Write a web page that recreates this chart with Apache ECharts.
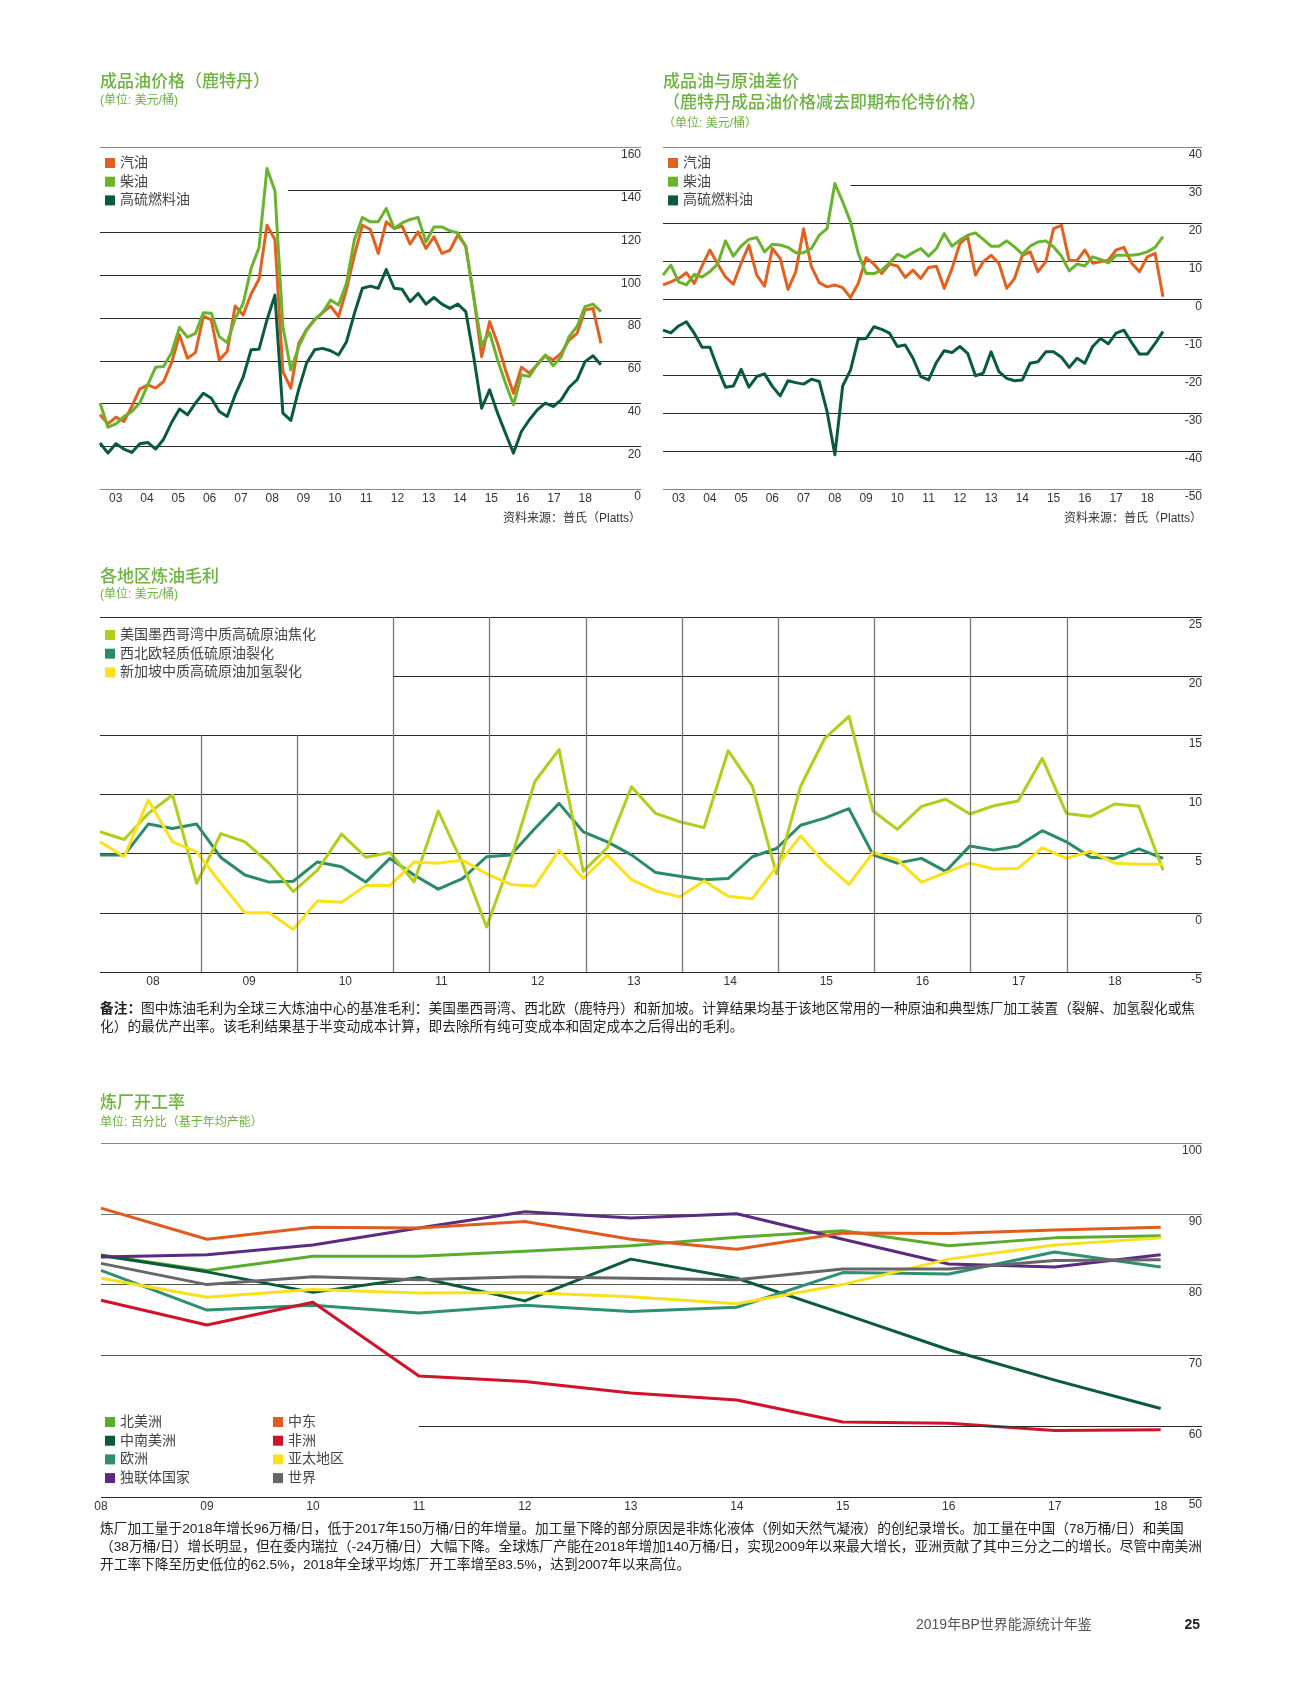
<!DOCTYPE html>
<html><head><meta charset="utf-8">
<script src="https://cdn.jsdelivr.net/npm/echarts@6/dist/echarts.min.js"></script>
<style>html,body{margin:0;padding:0;background:#fff}#c{width:1305px;height:1689px}</style>
</head><body><div id="c"></div>
<script>
// ---------- DATA ----------
// Rotterdam product prices, US$/bbl, quarterly 2003-2018
const gasolinePrice = [34.7,30.5,33.6,31.6,38.6,46.7,48.7,47.2,50.3,59.1,72.1,61.2,63.8,80.9,79.1,60.4,64.3,85.6,81.4,91.2,98.1,123.4,116.7,54.9,47.2,68.2,74.7,79.4,82.5,85.6,80.6,93.4,109.4,123.4,121.4,110.2,125.0,121.9,123.0,114.6,120.3,112.5,118.0,110.2,111.7,118.8,113.6,90.0,61.9,78.3,68.2,55.7,44.8,57.0,54.2,58.1,62.3,60.4,63.5,69.7,72.8,83.7,84.5,68.2];
const dieselPrice = [40.2,28.9,30.5,33.9,36.3,40.2,48.7,57.0,57.3,63.8,75.6,71.0,72.8,82.5,82.2,71.3,68.5,79.8,86.8,103.2,113.0,149.9,139.5,76.0,55.7,66.6,74.4,79.1,82.5,88.4,86.1,96.2,116.7,127.0,125.0,125.0,131.2,121.9,124.5,126.1,127.0,115.6,122.6,122.6,120.8,119.8,113.6,90.0,67.4,73.2,60.4,49.5,39.4,53.4,52.6,58.5,62.7,57.6,61.9,71.3,76.0,85.3,86.5,83.0];
const fuelOilPrice = [21.5,16.8,21.2,18.7,17.1,21.2,21.8,18.7,23.3,31.1,37.4,34.7,40.2,44.8,42.5,36.3,33.9,44.0,52.3,65.1,65.4,79.1,90.7,35.5,32.1,46.7,59.1,65.1,65.8,64.7,62.7,68.9,82.2,93.9,94.9,93.9,102.7,93.9,93.4,87.6,91.5,86.5,89.6,86.5,84.5,86.5,83.0,61.9,37.8,46.4,35.5,26.1,16.8,26.9,32.4,37.0,40.2,38.6,41.7,47.6,51.1,59.6,62.3,58.1];
// Product cracks vs dated Brent, US$/bbl
const gasolineCrack = [3.7,4.5,5.4,6.9,4.1,8.7,12.9,9.2,5.8,3.9,9.4,14.2,6.3,3.4,13.3,10.7,2.5,7.2,18.5,8.5,4.3,3.2,3.7,3.0,0.4,4.1,10.9,9.2,6.7,9.2,8.7,5.7,7.6,5.4,8.3,8.6,2.8,8.0,14.6,16.4,6.3,9.8,11.5,9.4,2.8,5.4,11.5,12.4,7.2,9.8,18.5,19.4,10.1,10.1,12.9,9.4,9.8,10.2,12.9,13.6,9.4,7.2,11.1,12.0,0.6];
const dieselCrack = [6.3,8.9,4.5,3.7,6.5,5.8,7.2,9.2,15.3,11.3,13.9,15.7,16.2,12.4,14.4,14.2,13.6,12.2,12.2,13.3,16.8,18.5,30.4,25.6,20.3,12.0,6.7,6.7,7.6,9.5,11.8,10.9,12.2,13.3,11.3,13.3,17.2,13.9,15.5,16.8,17.4,15.7,13.9,13.9,15.3,13.7,11.8,13.9,15.0,15.3,13.7,11.3,7.4,9.2,8.7,11.1,10.4,9.5,11.5,11.5,11.5,11.8,12.4,13.6,16.4];
const fuelOilCrack = [-8.2,-8.9,-7.1,-6.0,-9.0,-12.7,-12.7,-18.2,-23.2,-22.9,-18.5,-23.2,-20.4,-19.7,-23.0,-25.5,-21.5,-22.0,-22.4,-21.1,-21.7,-29.6,-41.0,-22.9,-18.7,-10.5,-10.4,-7.3,-8.0,-9.0,-12.5,-12.1,-15.6,-20.4,-21.3,-16.7,-13.6,-14.1,-12.5,-14.3,-20.2,-19.5,-13.9,-19.1,-20.9,-21.5,-21.3,-16.9,-16.5,-13.9,-13.9,-15.3,-18.0,-15.6,-16.9,-12.5,-10.4,-11.8,-9.0,-8.2,-11.5,-14.5,-14.5,-11.7,-8.6];
// Regional refining margins, US$/bbl, quarterly 2008-2018
const usGulfCoking = [6.85,6.2,8.4,9.96,2.5,6.7,6.0,4.2,1.8,3.6,6.65,4.7,5.1,2.6,8.6,4.2,-1.2,4.45,11.1,13.8,3.5,5.5,10.66,8.4,7.7,7.2,13.7,10.7,3.3,10.7,14.75,16.6,8.6,7.05,9.0,9.6,8.35,9.05,9.45,13.05,8.4,8.15,9.2,9.0,3.6];
const nweCracking = [4.88,4.88,7.5,7.13,7.5,4.68,3.2,2.6,2.67,4.3,3.9,2.6,4.6,3.2,2.0,2.9,4.74,4.88,7.13,9.25,6.85,6.0,4.9,3.4,3.1,2.8,2.9,4.74,5.44,7.4,8.0,8.8,4.9,4.2,4.6,3.5,5.64,5.3,5.64,6.94,6.0,4.7,4.6,5.4,4.6];
const singaporeHydrocracking = [6.0,4.74,9.53,6.0,5.15,2.5,0.0,0.0,-1.4,1.0,0.9,2.3,2.3,4.3,4.2,4.45,3.3,2.4,2.25,5.3,2.9,4.88,2.8,1.85,1.35,2.7,1.4,1.2,3.9,6.5,4.2,2.4,5.1,4.5,2.6,3.4,4.2,3.7,3.75,5.5,4.6,5.2,4.2,4.1,4.1];
// Refinery utilisation, %, 2008-2018
const utilYears = [2008,2009,2010,2011,2012,2013,2014,2015,2016,2017,2018];
const northAmerica = [84.2,82.0,84.0,84.0,84.7,85.5,86.7,87.6,85.5,86.6,86.9];
const csAmerica = [84.1,81.8,78.9,81.0,77.7,83.6,80.9,75.9,70.8,66.5,62.5];
const europe = [82.0,76.4,77.1,76.0,77.1,76.2,76.8,81.7,81.5,84.6,82.5];
const cis = [83.9,84.2,85.6,88.0,90.3,89.4,90.0,86.4,82.9,82.5,84.2];
const middleEast = [90.8,86.4,88.1,88.0,88.9,86.4,85.0,87.3,87.2,87.7,88.1];
const africa = [77.8,74.3,77.5,67.1,66.3,64.7,63.7,60.6,60.4,59.4,59.5];
const asiaPacific = [80.9,78.2,79.3,78.8,78.9,78.3,77.3,80.0,83.6,85.6,86.6];
const world = [83.0,80.0,81.1,80.7,81.1,80.9,80.7,82.2,82.2,83.4,83.5];
// gridline years of the margin chart
const marginYearLines = [2009,2010,2011,2012,2013,2014,2015,2016,2017,2018];

// ---------- HELPERS ----------
const FONT = "'Liberation Sans','Noto Sans CJK SC',sans-serif";
const GREEN = '#6cb33f';
function spread(vals, start, end){ return vals.map((v,i,a)=>[start + (end-start)*i/(a.length-1), v]); }
function yearsXY(vals){ return vals.map((v,i)=>[utilYears[i], v]); }
function line(name, data, color, xi, yi, z){
  return {type:'line', name, data, xAxisIndex:xi, yAxisIndex:yi, showSymbol:false, symbol:'none', z:z||2,
    lineStyle:{color, width:3, join:'round'}, itemStyle:{color}, emphasis:{disabled:true}, silent:true};
}
function ruler(xi, yi, color, width, segs){
  return {type:'line', name:'_r'+xi+color, data:[], xAxisIndex:xi, yAxisIndex:yi, z:1, silent:true,
    markLine:{silent:true, symbol:['none','none'], label:{show:false}, animation:false, emphasis:{disabled:true},
      lineStyle:{color, width, type:'solid'},
      data: segs.map(s=>[{coord:[s[0],s[1]]},{coord:[s[2],s[3]]}])}};
}
function yAx(gridIndex, min, max, interval, colors){
  return {gridIndex, type:'value', position:'right', min, max, interval,
    axisLine:{show:false}, axisTick:{show:false},
    axisLabel:{inside:true, margin:0, verticalAlign:'top', padding:[2,0,0,0], color:'#333', fontSize:12, fontFamily:FONT},
    splitLine:{show:true, lineStyle:{color:colors, width:1.1}}};
}
function xData(gridIndex, min, max){
  return {gridIndex, type:'value', min, max, position:'bottom', show:false};
}
// label axis in 1/20-year units: a label sits at the middle of each year
function xLabels(gridIndex, min, max, lastYear, margin){
  return {gridIndex, type:'value', min:Math.round(min*20), max:max*20, interval:1, position:'bottom',
    axisLine:{show:false}, axisTick:{show:false}, splitLine:{show:false},
    axisLabel:{margin, color:'#333', fontSize:12, fontFamily:FONT,
      formatter: v => { const r=Math.round(v); if (Math.abs(v-r)>1e-6 || r%20!==10) return ''; const y=(r-10)/20; return y<=lastYear ? String(y).slice(2) : ''; }}};
}
function legend(left, top, names){
  return {left, top, orient:'vertical', itemWidth:10, itemHeight:10, itemGap:4.7, icon:'rect', selectedMode:false,
    itemStyle:{borderWidth:0}, textStyle:{fontSize:14, color:'#444', fontFamily:FONT}, data:names};
}
function txt(x, y, text, o){
  o = o || {};
  return {type:'text', x, y, silent:true, style:Object.assign({text, fill:o.fill||'#222', fontSize:o.size||14, fontFamily:FONT,
    fontWeight:o.weight||'normal', align:o.align||'left', verticalAlign:o.va||'middle', lineHeight:o.lh}, o.extra||{})};
}

// ---------- AXES ----------
const A_MAX = 2020.28, B_MAX = 2020.25, C_MIN = 2007.95, C_MAX = 2019.405, D_MAX = 2018.39;
const gray = '#8a8a8a', dark = '#2a2a2a', none = 'rgba(0,0,0,0)';
const option = {
  animation:false,
  backgroundColor:'#fff',
  textStyle:{fontFamily:FONT},
  grid:[
    {left:100, top:147, width:541, height:342, outerBoundsMode:'none'},
    {left:663, top:147, width:539, height:342, outerBoundsMode:'none'},
    {left:100, top:617, width:1102, height:355, outerBoundsMode:'none'},
    {left:101, top:1143, width:1101, height:354, outerBoundsMode:'none'}
  ],
  xAxis:[
    xData(0, 2003, A_MAX), xLabels(0, 2003, A_MAX, 2018, 4),
    xData(1, 2003, B_MAX), xLabels(1, 2003, B_MAX, 2018, 4),
    xData(2, C_MIN, C_MAX), xLabels(2, C_MIN, C_MAX, 2018, 4),
    {gridIndex:3, type:'value', min:2008, max:D_MAX, interval:1, position:'bottom',
      axisLine:{show:false}, axisTick:{show:false}, splitLine:{show:false},
      axisLabel:{margin:4, color:'#333', fontSize:12, fontFamily:FONT,
        formatter: v => (Math.abs(v-Math.round(v))<1e-6 && v<=2018) ? String(Math.round(v)).slice(2) : ''}}
  ],
  yAxis:[
    yAx(0, 0, 160, 20, [gray,dark,dark,dark,dark,dark,dark,none,gray]),
    yAx(1, -50, 40, 10, [gray,dark,dark,dark,dark,dark,dark,dark,none,gray]),
    yAx(2, -5, 25, 5, [dark,dark,dark,dark,dark,none,dark]),
    yAx(3, 50, 100, 10, [dark,none,'#555','#555','#777','#888'])
  ],
  legend:[
    legend(100, 151, ['汽油','柴油','高硫燃料油']),
    legend(663, 151, ['汽油','柴油','高硫燃料油']),
    legend(100, 623, ['美国墨西哥湾中质高硫原油焦化','西北欧轻质低硫原油裂化','新加坡中质高硫原油加氢裂化']),
    legend(100, 1410, ['北美洲','中南美洲','欧洲','独联体国家']),
    legend(268, 1410, ['中东','非洲','亚太地区','世界'])
  ],
  series:[
    ruler(0, 0, dark, 1.1, [[2009,140,A_MAX,140]]),
    line('汽油', spread(gasolinePrice, 2003, 2019), '#e4601f', 0, 0),
    line('柴油', spread(dieselPrice, 2003, 2019), '#6ab42d', 0, 0),
    line('高硫燃料油', spread(fuelOilPrice, 2003, 2019), '#0a5b3b', 0, 0),

    ruler(2, 1, dark, 1.1, [[2009,30,B_MAX,30]]),
    line('汽油', spread(gasolineCrack, 2003, 2019), '#e4601f', 2, 1),
    line('柴油', spread(dieselCrack, 2003, 2019), '#6ab42d', 2, 1),
    line('高硫燃料油', spread(fuelOilCrack, 2003, 2019), '#0a5b3b', 2, 1),

    ruler(4, 2, '#777', 1.3, marginYearLines.map(y => [y, y<2011 ? 15 : 25, y, -5])),
    ruler(4, 2, dark, 1.1, [[2011,20,C_MAX,20]]),
    line('西北欧轻质低硫原油裂化', spread(nweCracking, C_MIN, 2019), '#2a8a6c', 4, 2),
    line('美国墨西哥湾中质高硫原油焦化', spread(usGulfCoking, C_MIN, 2019), '#b3cd1c', 4, 2),
    line('新加坡中质高硫原油加氢裂化', spread(singaporeHydrocracking, C_MIN, 2019), '#fbe11b', 4, 2),

    ruler(6, 3, dark, 1.1, [[2011,60,D_MAX,60]]),
    line('北美洲', yearsXY(northAmerica), '#5aac2e', 6, 3),
    line('中南美洲', yearsXY(csAmerica), '#0b5b36', 6, 3),
    line('欧洲', yearsXY(europe), '#2e8f74', 6, 3),
    line('独联体国家', yearsXY(cis), '#5b2b82', 6, 3),
    line('中东', yearsXY(middleEast), '#e05b1f', 6, 3),
    line('非洲', yearsXY(africa), '#d2112b', 6, 3),
    line('亚太地区', yearsXY(asiaPacific), '#f7e11d', 6, 3),
    line('世界', yearsXY(world), '#666666', 6, 3)
  ],
  graphic:[
    txt(100, 82, '成品油价格（鹿特丹）', {fill:GREEN, size:17, weight:500}),
    txt(100, 101, '(单位: 美元/桶)', {fill:GREEN, size:12}),
    txt(663, 82, '成品油与原油差价', {fill:GREEN, size:17, weight:500}),
    txt(663, 103, '（鹿特丹成品油价格减去即期布伦特价格）', {fill:GREEN, size:17, weight:500}),
    txt(663, 124, '（单位: 美元/桶）', {fill:GREEN, size:12}),
    txt(641, 519, '资料来源：普氏（Platts）', {size:12, align:'right', fill:'#333'}),
    txt(1202, 519, '资料来源：普氏（Platts）', {size:12, align:'right', fill:'#333'}),
    txt(100, 577, '各地区炼油毛利', {fill:GREEN, size:17, weight:500}),
    txt(100, 595, '(单位: 美元/桶)', {fill:GREEN, size:12}),
    txt(100, 1000, '{b|备注：}图中炼油毛利为全球三大炼油中心的基准毛利：美国墨西哥湾、西北欧（鹿特丹）和新加坡。计算结果均基于该地区常用的一种原油和典型炼厂加工装置（裂解、加氢裂化或焦\n化）的最优产出率。该毛利结果基于半变动成本计算，即去除所有纯可变成本和固定成本之后得出的毛利。',
      {size:13.7, va:'top', lh:18, extra:{rich:{b:{fontWeight:'bold', fontSize:13.7, fontFamily:FONT, fill:'#222', lineHeight:18}}}}),
    txt(100, 1103, '炼厂开工率', {fill:GREEN, size:17, weight:500}),
    txt(100, 1123, '单位: 百分比（基于年均产能）', {fill:GREEN, size:12}),
    txt(100, 1520, '炼厂加工量于2018年增长96万桶/日，低于2017年150万桶/日的年增量。加工量下降的部分原因是非炼化液体（例如天然气凝液）的创纪录增长。加工量在中国（78万桶/日）和美国\n（38万桶/日）增长明显，但在委内瑞拉（-24万桶/日）大幅下降。全球炼厂产能在2018年增加140万桶/日，实现2009年以来最大增长，亚洲贡献了其中三分之二的增长。尽管中南美洲\n开工率下降至历史低位的62.5%，2018年全球平均炼厂开工率增至83.5%，达到2007年以来高位。',
      {size:13.7, va:'top', lh:18}),
    txt(916, 1625, '2019年BP世界能源统计年鉴', {size:14, fill:'#555'}),
    txt(1200, 1625, '25', {size:14, weight:'bold', align:'right', fill:'#222'})
  ]
};
const chart = echarts.init(document.getElementById('c'));
chart.setOption(option);
</script></body></html>
